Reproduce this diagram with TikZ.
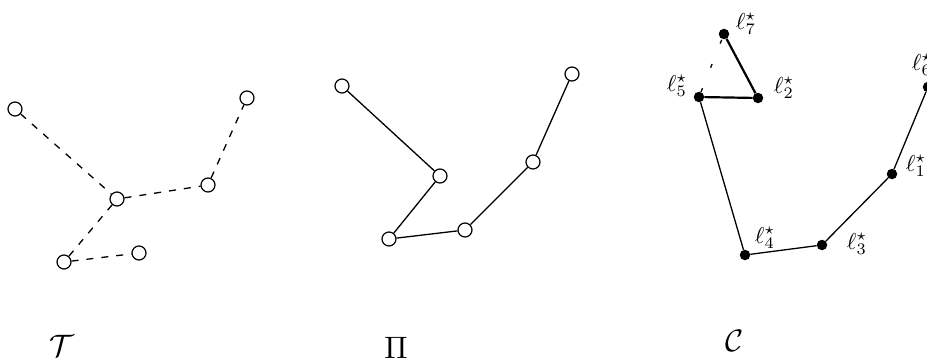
\documentclass[tikz,border=0pt]{standalone}
\usepackage{graphicx}
\newcommand{\lbl}[1]{\scalebox{2.3}{$\ell^{\star}_{#1}$}}
\newcommand{\ttlbox}[1]{\scalebox{3.1}{$#1$}}
\begin{document}
\begin{tikzpicture}[x=1pt,y=-1pt,
  open/.style={circle,draw,line width=1.2pt,fill=white,minimum size=14pt,inner sep=0pt},
  full/.style={circle,fill=black,minimum size=10.5pt,inner sep=0pt},
  tdash/.style={line width=1.3pt,dash pattern=on 7pt off 8pt},
  edge/.style={line width=1.3pt},
  thickedge/.style={line width=2.2pt},
  sparse/.style={line width=1.3pt,dash pattern=on 4pt off 22pt},
  lab/.style={inner sep=0pt},
  ttl/.style={inner sep=0pt}]
\useasboundingbox (0,0) rectangle (927,361);
\clip (0,0) rectangle (927,361);
% panel T
\node[open] (a) at (15,109) {};
\node[open] (b) at (117,199) {};
\node[open] (c) at (208,185) {};
\node[open] (d) at (247,98) {};
\node[open] (e) at (64,262) {};
\node[open] (f) at (139,253) {};
\draw[tdash] (a) -- (b);
\draw[tdash] (b) -- (c);
\draw[tdash] (c) -- (d);
\draw[tdash] (b) -- (e);
\draw[tdash] (e) -- (f);
% panel Pi
\node[open] (p1) at (342,86) {};
\node[open] (p2) at (440,176) {};
\node[open] (p3) at (389,239) {};
\node[open] (p4) at (465,230) {};
\node[open] (p5) at (533,162) {};
\node[open] (p6) at (572,74) {};
\draw[edge] (p1) -- (p2) -- (p3) -- (p4) -- (p5) -- (p6);
% panel C
\node[full] (l7) at (724,34) {};
\node[full] (l5) at (699,97) {};
\node[full] (l2) at (758,98) {};
\node[full] (l6) at (928,87) {};
\node[full] (l1) at (892,174) {};
\node[full] (l3) at (822,245) {};
\node[full] (l4) at (745,255) {};
\draw[thickedge] (l7) -- (l2) -- (l5);
\draw[edge] (l5) -- (l4) -- (l3) -- (l1) -- (l6);
\draw[sparse] (l5) -- (l7);
\node[lab] (t7) at (746,24) {\lbl{7}};
\node[lab] (t5) at (677,86) {\lbl{5}};
\node[lab] (t2) at (784,88) {\lbl{2}};
\node[lab] (t6) at (922,65) {\lbl{6}};
\node[lab] (t1) at (916,166) {\lbl{1}};
\node[lab] (t3) at (857,244) {\lbl{3}};
\node[lab] (t4) at (765,238) {\lbl{4}};
% titles
\node[ttl] (tt) at (62,346) {\ttlbox{\mathcal{T}}};
\node[ttl] (tp) at (396,348) {\ttlbox{\Pi}};
\node[ttl] (tc) at (735,341) {\ttlbox{\mathcal{C}}};
\end{tikzpicture}
\end{document}
